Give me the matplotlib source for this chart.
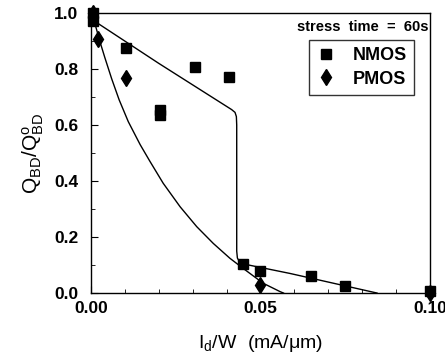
import numpy as np
import matplotlib
matplotlib.use("Agg")
import matplotlib.pyplot as plt
from matplotlib.ticker import MultipleLocator

plt.rcParams['font.family'] = ['Liberation Sans', 'DejaVu Sans']
plt.rcParams['mathtext.fontset'] = 'custom'
plt.rcParams['mathtext.rm'] = 'Liberation Sans:bold'
plt.rcParams['mathtext.it'] = 'Liberation Sans:bold'

# measured points
nmos_x = [0.0005, 0.0005, 0.0103, 0.0204, 0.0204, 0.0307, 0.0407, 0.0450, 0.0500, 0.0650, 0.0750, 0.1000]
nmos_y = [1.000, 0.970, 0.875, 0.655, 0.637, 0.807, 0.771, 0.104, 0.079, 0.061, 0.025, 0.008]
pmos_x = [0.0005, 0.0022, 0.0103, 0.0500, 0.1000]
pmos_y = [1.000, 0.907, 0.768, 0.030, 0.000]

# fitted curves
nfit_x = [0.0005, 0.0200, 0.0415, 0.0425, 0.0429, 0.0430, 0.0430, 0.0432, 0.0438, 0.0449, 0.0587, 0.0844]
nfit_y = [0.975, 0.820, 0.655, 0.645, 0.630, 0.600, 0.150, 0.125, 0.112, 0.104, 0.070, 0.000]
pfit_x = [0.0005, 0.0012, 0.0027, 0.0041, 0.0061, 0.0083, 0.0110, 0.0145, 0.0174, 0.0213,
          0.0263, 0.0312, 0.0361, 0.0410, 0.0449, 0.0508, 0.0558, 0.0568]
pfit_y = [0.985, 0.960, 0.895, 0.840, 0.765, 0.690, 0.612, 0.530, 0.470, 0.392,
          0.308, 0.237, 0.177, 0.124, 0.088, 0.035, 0.005, 0.000]

fig = plt.figure(figsize=(4.45, 3.6), dpi=100)
ax = fig.add_axes([0.2045, 0.186, 0.7615, 0.778])

ax.plot(nfit_x, nfit_y, color='black', lw=1.0)
ax.plot(pfit_x, pfit_y, color='black', lw=1.0)
ax.plot(nmos_x, nmos_y, 's', color='black', ms=7, label='NMOS', clip_on=False)
ax.plot(pmos_x, pmos_y, 'd', color='black', ms=8.5, label='PMOS', clip_on=False)

ax.set_xlim(0, 0.1)
ax.set_ylim(0, 1.0)
ax.xaxis.set_major_locator(MultipleLocator(0.05))
ax.xaxis.set_minor_locator(MultipleLocator(0.01))
ax.yaxis.set_major_locator(MultipleLocator(0.2))
ax.yaxis.set_minor_locator(MultipleLocator(0.1))
ax.xaxis.set_major_formatter(plt.FormatStrFormatter('%.2f'))
ax.yaxis.set_major_formatter(plt.FormatStrFormatter('%.1f'))
ax.tick_params(which='both', direction='in', labelsize=12.5)
ax.tick_params(axis='y', pad=9)
ax.tick_params(axis='x', pad=6)
ax.tick_params(which='major', length=5)
ax.tick_params(which='minor', length=3)
for lab in ax.get_xticklabels() + ax.get_yticklabels():
    lab.set_fontweight('bold')
for s in ax.spines.values():
    s.set_linewidth(1.0)

ax.set_xlabel(r'$\mathregular{I_d/W\ \ (mA/\mu m)}$', fontsize=14, labelpad=12)
ax.set_ylabel(r'$\mathregular{Q_{BD}/Q^{o}_{BD}}$', fontsize=15, labelpad=6)

ax.text(0.995, 0.95, 'stress  time  =  60s', transform=ax.transAxes, ha='right', va='center',
        fontsize=10.5, fontweight='bold')
leg = ax.legend(loc='upper right', bbox_to_anchor=(0.98, 0.935), frameon=True, fancybox=False,
                edgecolor='black', handlelength=1.0, borderpad=0.4,
                handletextpad=1.0, labelspacing=0.35, prop={'weight': 'bold', 'size': 13})
leg.get_frame().set_linewidth(1.0)

fig.savefig('out.png', dpi=100)
